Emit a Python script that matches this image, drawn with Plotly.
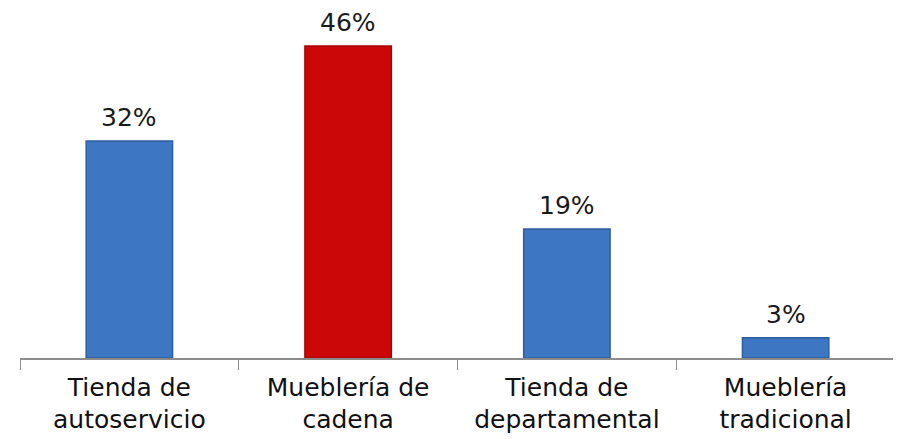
import plotly.graph_objects as go

categories = ["Tienda de<br>autoservicio", "Mueblería de<br>cadena", "Tienda de<br>departamental", "Mueblería<br>tradicional"]
values = [32, 46, 19, 3]
labels = ["32%", "46%", "19%", "3%"]
colors = ["#3D76C2", "#CC0707", "#3D76C2", "#3D76C2"]
edge_colors = ["#2F5E9E", "#A80404", "#2F5E9E", "#2F5E9E"]

fig = go.Figure(go.Bar(
    x=categories, y=values,
    marker=dict(color=colors, line=dict(width=1.5, color=edge_colors)),
    hoverinfo="skip",
))
for c, v, t in zip(categories, values, labels):
    fig.add_annotation(x=c, y=v, text=t, showarrow=False, yanchor="bottom",
                       yshift=8, borderpad=0,
                       font=dict(family="DejaVu Sans", size=25, color="#1a1a1a"))

# page body has an 8px margin; figure sized to fit the 901x439 window
fig.update_layout(
    width=893, height=431,
    margin=dict(l=12, r=6, t=0, b=81),
    paper_bgcolor="white", plot_bgcolor="white",
    bargap=0.605, showlegend=False,
    font=dict(family="DejaVu Sans", size=25, color="#111111"),
)
fig.update_xaxes(showline=True, linecolor="#8c8c8c", linewidth=1.5,
                 ticks="outside", tickson="boundaries", ticklen=10, tickcolor="#8c8c8c",
                 ticklabelstandoff=6, showgrid=False, automargin=False)
fig.update_yaxes(visible=False, range=[0, 51.6], showgrid=False)
fig.write_html("out.html")
